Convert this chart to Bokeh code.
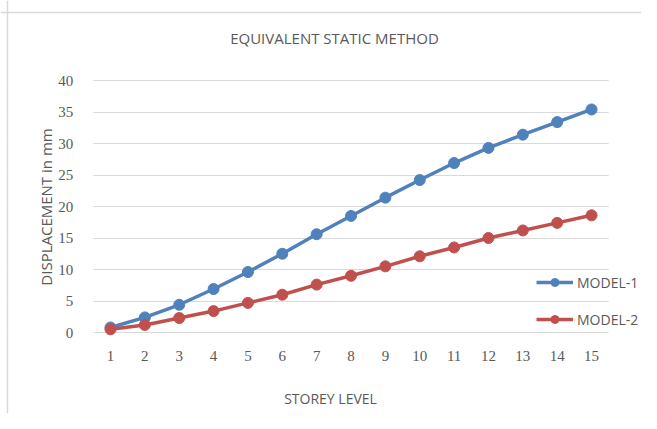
from bokeh.plotting import figure
from bokeh.models import Legend, LegendItem, FixedTicker, Range1d, Label, BoxAnnotation, Span
from bokeh.embed import file_html
from bokeh.resources import INLINE

storeys = [1, 2, 3, 4, 5, 6, 7, 8, 9, 10, 11, 12, 13, 14, 15]
model_1 = [0.8, 2.4, 4.4, 6.9, 9.6, 12.5, 15.6, 18.5, 21.4, 24.2, 26.9, 29.3, 31.4, 33.4, 35.4]
model_2 = [0.5, 1.2, 2.3, 3.4, 4.7, 6.0, 7.6, 9.0, 10.5, 12.1, 13.5, 15.0, 16.2, 17.4, 18.6]
y_ticks = [0, 5, 10, 15, 20, 25, 30, 35, 40]

title_text = "EQUIVALENT STATIC METHOD"
x_title = "STOREY LEVEL"
y_title = "DISPLACEMENT in mm"

BLUE = "#4F81BD"
RED = "#C0504D"
GREY = "#595959"
SANS = "Open Sans"
SERIF = "Liberation Serif"

W, H = 641, 413
# plot area in pixels: x 93..608 (storeys 0.5..15.5), y 80..332 (40..0)
PX_X = 34.36
PX_Y = 6.3
x0, x1 = 1 - 110 / PX_X, 1 + (W - 110) / PX_X
y0, y1 = -(H - 332) / PX_Y, 40 + 80 / PX_Y
p = figure(width=W, height=H, output_backend="svg", toolbar_location=None,
           x_range=Range1d(x0, x1), y_range=Range1d(y0, y1))
p.min_border_left = 0
p.min_border_right = 0
p.min_border_top = 0
p.min_border_bottom = 0
p.outline_line_color = None
p.background_fill_color = "white"
p.border_fill_color = "white"

p.xgrid.grid_line_color = None
p.ygrid.grid_line_color = "#d9d9d9"
p.ygrid.grid_line_width = 1

# white areas outside the plot area (hide grid lines there)
p.add_layout(BoxAnnotation(right=0.5, fill_color="white", fill_alpha=1.0,
                           line_color=None, level="underlay"))
p.add_layout(BoxAnnotation(left=15.5, fill_color="white", fill_alpha=1.0,
                           line_color=None, level="underlay"))
# chart border: left edge at 7px, top edge at 12px
p.add_layout(Span(location=x0 + 7 / PX_X, dimension="height",
                  line_color="#d9d9d9", line_width=1.5))
p.add_layout(Span(location=y1 - 12 / PX_Y, dimension="width",
                  line_color="#d9d9d9", line_width=1.5))

p.xaxis.ticker = FixedTicker(ticks=storeys)
p.yaxis.ticker = FixedTicker(ticks=y_ticks)
p.xaxis.fixed_location = 0
p.yaxis.fixed_location = 0.5
for ax in (p.xaxis[0], p.yaxis[0]):
    ax.axis_line_color = None
    ax.major_tick_line_color = None
    ax.minor_tick_line_color = None
    ax.major_label_text_font = SERIF
    ax.major_label_text_font_size = "15px"
    ax.major_label_text_color = GREY
p.xaxis.major_label_standoff = 12
p.yaxis.major_label_standoff = 14
p.yaxis.axis_label = y_title
p.yaxis.axis_label_text_font = SANS
p.yaxis.axis_label_text_font_size = "15px"
p.yaxis.axis_label_text_font_style = "normal"
p.yaxis.axis_label_text_color = GREY
p.yaxis.axis_label_standoff = 0

r1 = p.line(storeys, model_1, line_color=BLUE, line_width=3.5)
c1 = p.scatter(storeys, model_1, marker="circle", size=11, fill_color=BLUE, line_color=BLUE)
r2 = p.line(storeys, model_2, line_color=RED, line_width=3.5)
c2 = p.scatter(storeys, model_2, marker="circle", size=11, fill_color=RED, line_color=RED)

legend = Legend(items=[LegendItem(label="MODEL-1", renderers=[r1, c1]),
                       LegendItem(label="MODEL-2", renderers=[r2, c2])],
                location=(536, H - 329), orientation="vertical",
                padding=0, margin=0, spacing=17, glyph_width=37, glyph_height=20,
                label_height=20, label_standoff=4,
                label_text_font=SANS, label_text_font_size="14px", label_text_color=GREY,
                border_line_color=None, background_fill_alpha=0)
p.add_layout(legend, "center")

p.add_layout(Label(x=334, y=H - 37, x_units="screen", y_units="screen", text=title_text,
                   text_align="center", text_baseline="middle", text_font=SANS,
                   text_font_size="15px", text_color=GREY))
p.add_layout(Label(x=330, y=H - 398, x_units="screen", y_units="screen", text=x_title,
                   text_align="center", text_baseline="middle", text_font=SANS,
                   text_font_size="14px", text_color=GREY))

open("out.html", "w").write(file_html(p, INLINE))
